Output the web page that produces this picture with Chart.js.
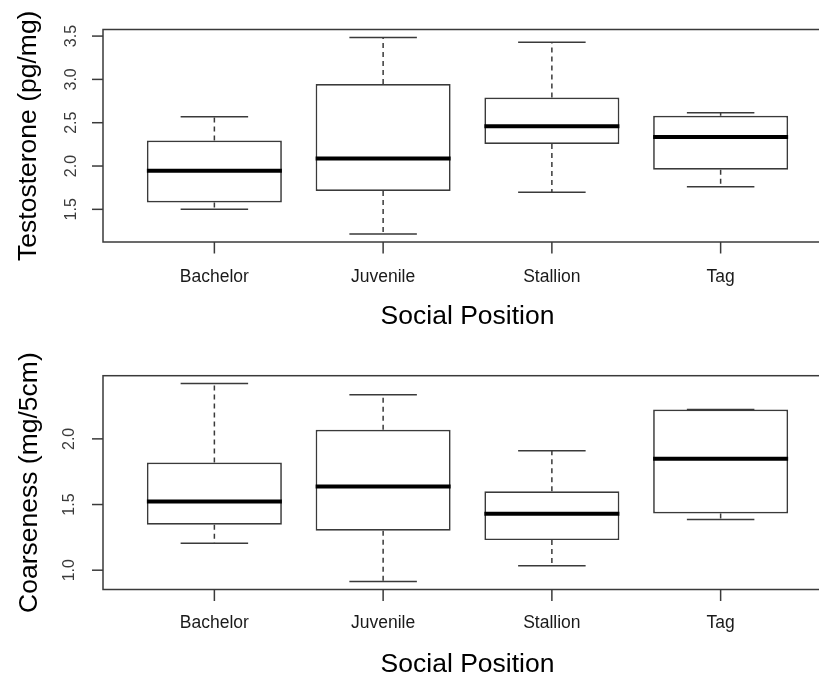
<!DOCTYPE html>
<html>
<head>
<meta charset="utf-8">
<script src="https://cdn.jsdelivr.net/npm/chart.js@4.4.1/dist/chart.umd.min.js"></script>
<style>
html,body{margin:0;padding:0;background:#fff;overflow:hidden;width:819px;height:677px;}
canvas{position:absolute;left:0;}
#c1{top:0;}
#c2{top:340px;}
</style>
</head>
<body>
<canvas id="c1" width="840" height="340"></canvas>
<canvas id="c2" width="840" height="337"></canvas>
<script>
// ---- data ----
const categories = ['Bachelor', 'Juvenile', 'Stallion', 'Tag'];

const testoLow  = [1.500, 1.215, 1.696, 1.761];
const testoQ1   = [1.580, 1.712, 2.254, 1.957];
const testoMed  = [1.946, 2.088, 2.460, 2.334];
const testoQ3   = [2.295, 2.946, 2.790, 2.580];
const testoHigh = [2.570, 3.485, 3.430, 2.615];
const testoTicks = [1.5, 2.0, 2.5, 3.0, 3.5];
const testoTickLabels = ['1.5', '2.0', '2.5', '3.0', '3.5'];

const coarseLow  = [1.206, 0.913, 1.033, 1.386];
const coarseQ1   = [1.346, 1.300, 1.229, 1.432];
const coarseMed  = [1.523, 1.637, 1.429, 1.848];
const coarseQ3   = [1.820, 2.069, 1.601, 2.223];
const coarseHigh = [2.421, 2.335, 1.909, 2.223];
const coarseTicks = [1.0, 1.5, 2.0];
const coarseTickLabels = ['1.0', '1.5', '2.0'];

const xTitle = 'Social Position';
const testoTitle = 'Testosterone (pg/mg)';
const coarseTitle = 'Coarseness (mg/5cm)';

const FONT = '"Liberation Sans", Arial, Helvetica, sans-serif';

function boxChart(id, p) {
  const catPos = categories.map((c, i) => i + 1);
  const plugin = {
    id: 'rbox',
    afterDatasetsDraw(chart) {
      const ctx = chart.ctx;
      const a = chart.chartArea;
      const xs = chart.scales.x, ys = chart.scales.y;
      const meta = chart.getDatasetMeta(0);
      ctx.save();
      // whiskers + medians
      meta.data.forEach((el, i) => {
        const cx = el.x, hw = el.width / 2;
        const capHw = hw / 2;
        const yLow = ys.getPixelForValue(p.low[i]);
        const yQ1 = ys.getPixelForValue(p.q1[i]);
        const yQ3 = ys.getPixelForValue(p.q3[i]);
        const yHigh = ys.getPixelForValue(p.high[i]);
        const yMed = ys.getPixelForValue(p.med[i]);
        ctx.strokeStyle = '#3a3a3a';
        ctx.lineWidth = 1.5;
        ctx.setLineDash([5, 4]);
        ctx.beginPath();
        if (yHigh < yQ3 - 0.5) { ctx.moveTo(cx, yQ3); ctx.lineTo(cx, yHigh); }
        if (yLow > yQ1 + 0.5) { ctx.moveTo(cx, yQ1); ctx.lineTo(cx, yLow); }
        ctx.stroke();
        ctx.setLineDash([]);
        ctx.beginPath();
        ctx.moveTo(cx - capHw, yHigh); ctx.lineTo(cx + capHw, yHigh);
        ctx.moveTo(cx - capHw, yLow); ctx.lineTo(cx + capHw, yLow);
        ctx.stroke();
        ctx.strokeStyle = '#000';
        ctx.lineWidth = 4;
        ctx.beginPath();
        ctx.moveTo(cx - hw, yMed); ctx.lineTo(cx + hw, yMed);
        ctx.stroke();
      });
      // frame
      ctx.strokeStyle = '#3a3a3a';
      ctx.lineWidth = 1.5;
      ctx.strokeRect(a.left, a.top, a.right - a.left, a.bottom - a.top);
      // y ticks and labels
      ctx.fillStyle = '#3a3a3a';
      ctx.font = '16px ' + FONT;
      ys.ticks.forEach((t, i) => {
        const y = ys.getPixelForValue(t.value);
        ctx.beginPath();
        ctx.moveTo(a.left, y); ctx.lineTo(a.left - 11, y);
        ctx.stroke();
        ctx.save();
        ctx.translate(p.yLabelX, y);
        ctx.rotate(-Math.PI / 2);
        ctx.textAlign = 'center';
        ctx.textBaseline = 'middle';
        ctx.fillText(p.tickLabels[i], 0, 0);
        ctx.restore();
      });
      // x ticks and labels
      ctx.fillStyle = '#1a1a1a';
      ctx.font = '17.5px ' + FONT;
      ctx.textAlign = 'center';
      ctx.textBaseline = 'alphabetic';
      xs.ticks.forEach((t) => {
        const x = xs.getPixelForValue(t.value);
        ctx.beginPath();
        ctx.moveTo(x, a.bottom); ctx.lineTo(x, a.bottom + 11.5);
        ctx.stroke();
        ctx.fillText(categories[t.value - 1], x, p.xLabelY);
      });
      // titles
      ctx.fillStyle = '#000';
      ctx.font = '26.5px ' + FONT;
      ctx.fillText(xTitle, (a.left + a.right) / 2, p.xTitleY);
      ctx.save();
      ctx.translate(p.yTitleX, (a.top + a.bottom) / 2);
      ctx.rotate(-Math.PI / 2);
      ctx.textAlign = 'center';
      ctx.textBaseline = 'alphabetic';
      ctx.fillText(p.yTitle, 0, 0);
      ctx.restore();
      ctx.restore();
    }
  };

  return new Chart(document.getElementById(id), {
    type: 'bar',
    data: {
      datasets: [{
        data: catPos.map((x, i) => ({ x: x, y: [p.q1[i], p.q3[i]] })),
        backgroundColor: '#ffffff',
        borderColor: '#3a3a3a',
        borderWidth: 1.7,
        borderSkipped: false,
        categoryPercentage: 1.0,
        barPercentage: 0.8
      }]
    },
    options: {
      responsive: false,
      devicePixelRatio: 1,
      animation: false,
      events: [],
      layout: { padding: { top: p.padTop, right: 8, bottom: 0, left: 0 } },
      plugins: { legend: { display: false }, tooltip: { enabled: false } },
      scales: {
        x: {
          type: 'linear',
          min: 0.34, max: 4.66,
          offset: false,
          grid: { display: false },
          border: { display: false },
          ticks: { display: false },
          afterBuildTicks: (s) => { s.ticks = catPos.map(v => ({ value: v })); },
          afterFit: (s) => { s.height = p.xHeight; }
        },
        y: {
          type: 'linear',
          min: p.yMin, max: p.yMax,
          grid: { display: false },
          border: { display: false },
          ticks: { display: false },
          afterBuildTicks: (s) => { s.ticks = p.ticks.map(v => ({ value: v })); },
          afterFit: (s) => { s.width = 103; }
        }
      }
    },
    plugins: [plugin]
  });
}

boxChart('c1', {
  low: testoLow, q1: testoQ1, med: testoMed, q3: testoQ3, high: testoHigh,
  ticks: testoTicks, tickLabels: testoTickLabels, yTitle: testoTitle,
  yMin: 1.123, yMax: 3.576, padTop: 29.5, xHeight: 98,
  yLabelX: 72, xLabelY: 282.3, xTitleY: 324.3, yTitleX: 35.5
});

boxChart('c2', {
  low: coarseLow, q1: coarseQ1, med: coarseMed, q3: coarseQ3, high: coarseHigh,
  ticks: coarseTicks, tickLabels: coarseTickLabels, yTitle: coarseTitle,
  yMin: 0.853, yMax: 2.481, padTop: 35.7, xHeight: 87.5,
  yLabelX: 70, xLabelY: 288.3, xTitleY: 331.7, yTitleX: 36.5
});
</script>
</body>
</html>
